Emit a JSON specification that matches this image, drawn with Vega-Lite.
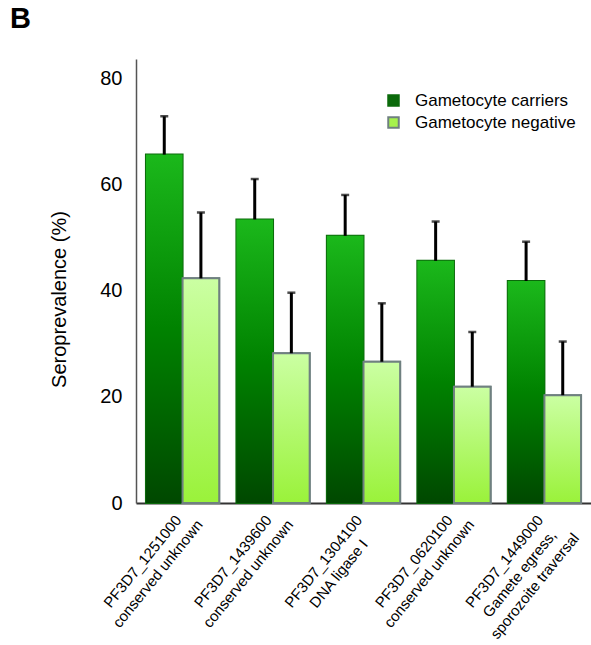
{
  "$schema": "https://vega.github.io/schema/vega-lite/v6.json",
  "autosize": {"type": "none"},
  "padding": {"left": 136, "top": 59, "right": 0, "bottom": 142},
  "width": 455,
  "height": 444,
  "background": "white",
  "config": {
    "font": "Liberation Sans",
    "view": {"stroke": null}
  },
  "title": {
    "text": "B",
    "anchor": "start",
    "frame": "group",
    "orient": "top",
    "fontSize": 29,
    "fontWeight": "bold",
    "color": "#000000",
    "baseline": "alphabetic",
    "offset": 29,
    "dx": -126,
    "dy": 27
  },
  "data": {
    "values": [
      {"antigen": "PF3D7_1251000|conserved unknown", "group": "Gametocyte carriers", "value": 65.6, "upper": 72.8},
      {"antigen": "PF3D7_1251000|conserved unknown", "group": "Gametocyte negative", "value": 42.3, "upper": 54.7},
      {"antigen": "PF3D7_1439600|conserved unknown", "group": "Gametocyte carriers", "value": 53.4, "upper": 61.0},
      {"antigen": "PF3D7_1439600|conserved unknown", "group": "Gametocyte negative", "value": 28.2, "upper": 39.6},
      {"antigen": "PF3D7_1304100|DNA ligase I", "group": "Gametocyte carriers", "value": 50.3, "upper": 58.0},
      {"antigen": "PF3D7_1304100|DNA ligase I", "group": "Gametocyte negative", "value": 26.6, "upper": 37.6},
      {"antigen": "PF3D7_0620100|conserved unknown", "group": "Gametocyte carriers", "value": 45.6, "upper": 53.0},
      {"antigen": "PF3D7_0620100|conserved unknown", "group": "Gametocyte negative", "value": 21.9, "upper": 32.2},
      {"antigen": "PF3D7_1449000|Gamete egress,|sporozoite traversal", "group": "Gametocyte carriers", "value": 41.8, "upper": 49.2},
      {"antigen": "PF3D7_1449000|Gamete egress,|sporozoite traversal", "group": "Gametocyte negative", "value": 20.3, "upper": 30.4}
    ]
  },
  "encoding": {
    "x": {
      "field": "antigen",
      "type": "nominal",
      "sort": null,
      "scale": {"paddingInner": 0.19, "paddingOuter": 0.11},
      "axis": {
        "title": null,
        "labelExpr": "split(datum.value, '|')",
        "labelAngle": -51,
        "labelAlign": "center",
        "labelBaseline": "middle",
        "labelFontSize": 15,
        "labelLineHeight": 19.5,
        "labelColor": "#000000",
        "labelPadding": 58,
        "labelOffset": -40,
        "labelOverlap": false,
        "labelBound": false,
        "ticks": false,
        "domainColor": "#333333",
        "domainWidth": 2,
        "labelLimit": 0
      }
    },
    "xOffset": {"field": "group", "type": "nominal", "scale": {"paddingInner": 0, "paddingOuter": 0}},
    "y": {
      "field": "value",
      "type": "quantitative",
      "scale": {"domain": [0, 83.6], "nice": false},
      "axis": {
        "title": "Seroprevalence (%)",
        "titleFontSize": 20,
        "titleFontWeight": "normal",
        "titleColor": "#000000",
        "titleAngle": -90,
        "titleAlign": "center",
        "titleBaseline": "middle",
        "titleX": -77,
        "titleY": 240,
        "values": [0, 20, 40, 60, 80],
        "labelFontSize": 20,
        "labelColor": "#000000",
        "labelPadding": 14,
        "ticks": false,
        "grid": false,
        "domainColor": "#555555",
        "domainWidth": 1.5
      }
    }
  },
  "layer": [
    {
      "mark": {"type": "bar", "strokeWidth": 2},
      "encoding": {
        "fill": {
          "field": "group",
          "type": "nominal",
          "scale": {
            "domain": ["Gametocyte carriers", "Gametocyte negative"],
            "range": ["#0b6a0b", "#a6f24c"]
          },
          "legend": {
            "title": null,
            "orient": "none",
            "legendX": 249,
            "legendY": 33,
            "padding": 0,
            "symbolType": "square",
            "symbolSize": 110,
            "symbolStrokeWidth": 2,
            "labelFontSize": 17,
            "labelColor": "#000000",
            "labelOffset": 13,
            "rowPadding": 3,
            "labelLimit": 0
          }
        },
        "stroke": {
          "field": "group",
          "type": "nominal",
          "scale": {
            "domain": ["Gametocyte carriers", "Gametocyte negative"],
            "range": ["#0b6a0b", "#6f8080"]
          }
        }
      }
    },
    {
      "transform": [{"filter": "datum.group === 'Gametocyte carriers'"}],
      "mark": {
        "type": "bar",
        "fill": {"gradient": "linear", "x1": 0, "y1": 0, "x2": 0, "y2": 1, "stops": [
          {"offset": 0, "color": "#1bb81b"},
          {"offset": 0.5, "color": "#008200"},
          {"offset": 1, "color": "#004800"}
        ]}
      },
      "encoding": {}
    },
    {
      "transform": [{"filter": "datum.group === 'Gametocyte negative'"}],
      "mark": {
        "type": "bar",
        "stroke": "#6f8080",
        "strokeWidth": 2,
        "fill": {"gradient": "linear", "x1": 0, "y1": 0, "x2": 0, "y2": 1, "stops": [
          {"offset": 0, "color": "#cbffa3"},
          {"offset": 1, "color": "#9af23a"}
        ]}
      },
      "encoding": {}
    },
    {
      "mark": {"type": "rule", "color": "#000000", "strokeWidth": 3},
      "encoding": {
        "y2": {"field": "upper"}
      }
    },
    {
      "mark": {"type": "tick", "color": "#000000", "thickness": 2.5, "size": 8, "orient": "horizontal"},
      "encoding": {
        "y": {"field": "upper", "type": "quantitative"}
      }
    }
  ]
}
